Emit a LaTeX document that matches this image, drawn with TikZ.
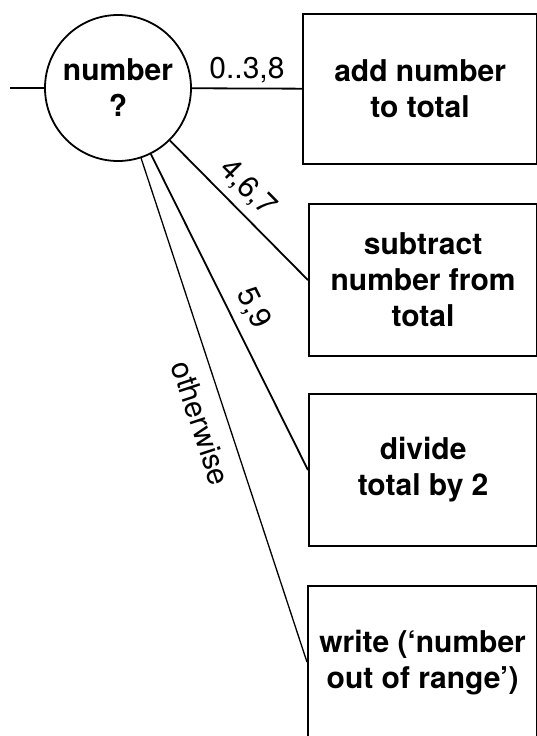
\documentclass[tikz,border=0pt]{standalone}
\usepackage{fontspec}
\setmainfont{TeX Gyre Heros}
\begin{document}
\begin{tikzpicture}[x=1pt,y=-1pt,
  box/.style={draw, line width=2.2pt, inner sep=0pt, align=center, anchor=north west,
    font=\fontsize{30}{36}\selectfont\bfseries},
  lab/.style={font=\fontsize{30}{34}\selectfont, inner sep=4pt},
  conn/.style={line width=1.8pt},
  thinconn/.style={line width=1.3pt}]
\useasboundingbox (0,0) rectangle (537,736);
\clip (0,0) rectangle (537,736);
\node[circle, draw, line width=1.8pt, minimum size=146pt, inner sep=0pt, align=center,
  font=\fontsize{30}{36}\selectfont\bfseries] (c) at (118,88) {number\\?};
\node[box, minimum width=234pt, minimum height=150pt] (b1) at (302,13) {add number\\to total};
\node[box, minimum width=228pt, minimum height=152pt] (b2) at (308,203) {subtract\\number from\\total};
\node[box, minimum width=228pt, minimum height=152pt] (b3) at (308,393) {divide\\total by 2};
\node[box, minimum width=229pt, minimum height=152pt] (b4) at (307,585) {write (‘number\\out of range’)};
\coordinate (in) at (10,88);
\draw[conn] (in) -- (c);
\draw[conn] (c) -- node[lab, above, pos=0.5, inner sep=5pt] {0..3,8} (b1);
\draw[conn] (c) -- node[lab, above, sloped, pos=0.45, inner sep=8pt] {4,6,7} (b2.west);
\draw[conn] (c) -- node[lab, above, sloped, pos=0.52, inner sep=9pt] {5,9} (b3.west);
\draw[thinconn] (c) -- node[lab, below, sloped, pos=0.51, inner sep=14pt] {otherwise} (b4.west);
\end{tikzpicture}
\end{document}
